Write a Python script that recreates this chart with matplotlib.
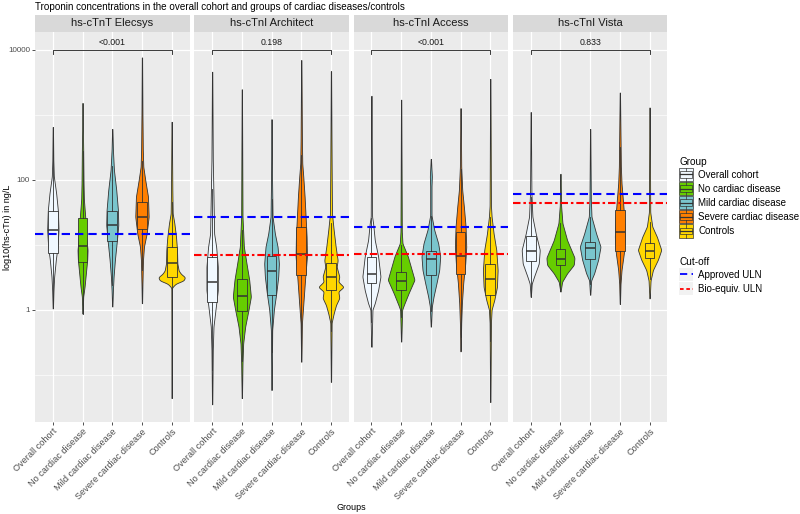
import numpy as np
import matplotlib
matplotlib.use("Agg")
import matplotlib.pyplot as plt
from matplotlib.patches import Rectangle, Patch
from matplotlib.lines import Line2D
from matplotlib.legend_handler import HandlerBase
from matplotlib.ticker import NullFormatter

plt.rcParams['font.family'] = ['Liberation Sans', 'DejaVu Sans']

# ---------------- data ----------------
groups = ["Overall cohort", "No cardiac disease", "Mild cardiac disease",
          "Severe cardiac disease", "Controls"]
assays = ["hs-cTnT Elecsys", "hs-cTnI Architect", "hs-cTnI Access", "hs-cTnI Vista"]
p_values = ["<0.001", "0.198", "<0.001", "0.833"]
approved_uln = [14.6, 26.9, 18.9, 61.0]      # ng/L
bioequiv_uln = [None, 6.9, 7.3, 44.0]        # ng/L

# box statistics (ng/L)
elecsys_q1 = [7.4, 5.4, 11.5, 17.4, 3.2]
elecsys_median = [16.8, 9.4, 20.0, 26.9, 5.2]
elecsys_q3 = [33.3, 26.0, 33.1, 45.7, 9.3]
architect_q1 = [1.3, 0.94, 1.7, 3.4, 2.0]
architect_median = [2.7, 1.6, 4.0, 7.2, 3.2]
architect_q3 = [6.5, 3.0, 6.6, 18.6, 5.2]
access_q1 = [2.6, 2.0, 3.4, 3.5, 1.7]
access_median = [3.5, 2.8, 6.0, 6.6, 3.0]
access_q3 = [6.5, 3.8, 7.9, 15.5, 5.1]
vista_q1 = [5.6, 4.8, 6.1, 7.9, 6.3]
vista_median = [7.9, 6.1, 8.8, 15.7, 7.9]
vista_q3 = [13.8, 8.7, 11.0, 34.7, 10.5]

# density profiles: (log10 ng/L, relative density); first/last level = min/max
elecsys_density = [
    [(0.02, .5), (0.30, 2), (0.51, 4), (0.77, 9), (0.97, 14), (1.23, 17), (1.53, 15),
     (1.79, 10), (2.05, 3), (2.3, 1.5), (2.81, .5)],
    [(-0.06, .5), (0.20, 2), (0.35, 6), (0.56, 10), (0.77, 14), (0.92, 15), (1.17, 10),
     (1.43, 8), (1.7, 4), (1.94, 3), (2.46, 2), (2.8, 1), (3.18, .5)],
    [(0.05, .5), (0.30, 2), (0.51, 4), (0.77, 8), (1.07, 14), (1.30, 18), (1.53, 17),
     (1.84, 12), (2.15, 5), (2.46, 2), (2.78, .5)],
    [(0.10, .5), (0.40, 1.5), (0.76, 3), (0.97, 6), (1.17, 14), (1.43, 20), (1.74, 18),
     (1.99, 10), (2.2, 4), (2.46, 2.5), (3.0, 1.5), (3.88, .5)],
    [(-1.36, .5), (0.34, 1), (0.40, 12), (0.45, 36), (0.50, 40), (0.55, 28), (0.60, 21),
     (0.71, 17), (0.92, 16), (1.12, 13), (1.33, 8), (1.48, 3), (1.84, 2), (2.89, .5)],
]
architect_density = [
    [(-1.455, .5), (-0.62, 2), (-0.26, 4), (0.0, 10), (0.30, 17), (0.66, 17), (0.97, 12),
     (1.17, 6), (1.74, 4), (2.3, 2), (3.66, .5)],
    [(-1.36, .5), (-0.82, 2), (-0.52, 4), (-0.26, 10), (0.0, 20), (0.20, 27), (0.46, 22),
     (0.71, 14), (0.97, 6), (1.43, 2), (3.39, .5)],
    [(-1.235, .5), (-0.31, 2), (0.0, 7), (0.25, 14), (0.51, 20), (0.71, 22), (0.97, 18),
     (1.17, 10), (1.43, 3), (2.0, 1.5), (2.93, .5)],
    [(-0.80, .5), (-0.21, 2), (0.15, 7), (0.51, 12), (0.82, 17), (1.12, 16), (1.43, 13),
     (1.74, 10), (2.05, 6), (2.25, 3), (2.6, 2), (3.84, .5)],
    [(-1.11, .5), (-0.2, 2), (-0.06, 8), (0.07, 15), (0.18, 25), (0.28, 22), (0.35, 38),
     (0.43, 22), (0.51, 25), (0.66, 17), (0.76, 20), (0.97, 14), (1.23, 8), (1.48, 3),
     (2.2, 2), (3.67, .5)],
]
access_density = [
    [(-0.57, .5), (0.0, 3), (0.10, 10), (0.30, 20), (0.51, 27), (0.82, 20), (1.07, 10),
     (1.33, 5), (1.43, 2), (3.29, .5)],
    [(-0.49, .5), (0.0, 3), (0.07, 8), (0.25, 22), (0.46, 40), (0.82, 20), (1.02, 4),
     (1.2, 2), (3.23, .5)],
    [(-0.26, .5), (0.05, 3), (0.20, 8), (0.41, 17), (0.61, 25), (0.82, 28), (1.02, 22),
     (1.23, 10), (1.45, 2), (1.9, 2), (2.05, 3), (2.2, 1.5), (2.32, .5)],
    [(-0.64, .5), (-0.2, 2), (0.10, 4), (0.41, 8), (0.71, 14), (0.97, 17), (1.28, 15),
     (1.58, 10), (1.84, 5), (2.2, 2), (3.1, .5)],
    [(-1.42, .5), (-0.2, 2), (0.0, 4), (0.15, 12), (0.35, 20), (0.61, 22), (0.92, 18),
     (1.17, 10), (1.43, 4), (1.6, 2), (3.55, .5)],
]
vista_density = [
    [(0.20, .5), (0.40, 3), (0.51, 10), (0.71, 24), (0.92, 27), (1.17, 15), (1.43, 5),
     (1.8, 2), (3.04, .5)],
    [(0.28, .5), (0.43, 5), (0.56, 20), (0.69, 40), (0.80, 42), (1.07, 20), (1.33, 6),
     (1.6, 2), (2.09, .5)],
    [(0.23, .5), (0.45, 3), (0.56, 12), (0.77, 24), (0.97, 31), (1.17, 18), (1.43, 4),
     (1.7, 2), (2.78, .5)],
    [(0.09, .5), (0.40, 2), (0.61, 5), (0.87, 12), (1.12, 15), (1.43, 13), (1.69, 9),
     (1.94, 5), (2.2, 3), (3.34, .5)],
    [(0.175, .5), (0.45, 3), (0.61, 10), (0.77, 25), (0.92, 35), (1.12, 22), (1.28, 8),
     (1.5, 2), (3.11, .5)],
]

group_colors = ["#F0F8FF", "#66CD00", "#7AC5CD", "#FF7F00", "#FFD700"]

q1_all = [elecsys_q1, architect_q1, access_q1, vista_q1]
med_all = [elecsys_median, architect_median, access_median, vista_median]
q3_all = [elecsys_q3, architect_q3, access_q3, vista_q3]
dens_all = [elecsys_density, architect_density, access_density, vista_density]

# ---------------- helpers ----------------
def smooth_profile(profile, npts=1200, sigma=0.012):
    lv = np.array([p[0] for p in profile], float)
    dv = np.array([p[1] for p in profile], float)
    grid = np.linspace(lv[0], lv[-1], npts)
    d = np.interp(grid, lv, dv)
    step = grid[1] - grid[0]
    half = int(np.ceil(3 * sigma / step))
    k = np.arange(-half, half + 1) * step
    ker = np.exp(-0.5 * (k / sigma) ** 2)
    ker /= ker.sum()
    dp = np.pad(d, half, mode='edge')
    ds = np.convolve(dp, ker, mode='valid')
    return grid, ds

profiles = [[smooth_profile(p) for p in dens] for dens in dens_all]
dens_ref = 40.0   # density that fills the full 0.9 violin width

W, H = 800, 514
fig = plt.figure(figsize=(W / 100, H / 100), dpi=100)

def fx(px):
    return px / W

def fy(py):
    return 1 - py / H

panel_top, panel_bot = 32, 422
strip_top = 15
pw = 154.5
lefts = [35 + i * 159.3 for i in range(4)]
ymin, ymax = 10 ** -1.728, 10 ** 4.272
positions = np.arange(1, 6)
edge = "#333333"

for i, assay in enumerate(assays):
    ax = fig.add_axes([fx(lefts[i]), fy(panel_bot), pw / W, (panel_bot - panel_top) / H])
    ax.set_facecolor("#EBEBEB")
    for s in ax.spines.values():
        s.set_visible(False)
    ax.set_yscale('log')
    ax.set_ylim(ymin, ymax)
    ax.set_xlim(0.4, 5.6)
    ax.set_axisbelow(True)

    # violins
    vpstats = []
    widths = []
    for (grid, ds) in profiles[i]:
        vals = 10 ** grid
        vpstats.append(dict(coords=vals, vals=ds, mean=np.median(vals),
                            median=np.median(vals), min=vals[0], max=vals[-1]))
        widths.append(0.9 * ds.max() / dens_ref)
    parts = ax.violin(vpstats, positions=positions, widths=widths,
                      showmeans=False, showextrema=False, showmedians=False)
    for body, c in zip(parts['bodies'], group_colors):
        body.set_facecolor(c)
        body.set_edgecolor(edge)
        body.set_linewidth(0.6)
        body.set_alpha(1)
        body.set_zorder(2)

    # boxes
    bstats = []
    for g in range(5):
        lq1, lmed, lq3 = np.log10([q1_all[i][g], med_all[i][g], q3_all[i][g]])
        iqr = lq3 - lq1
        lo_data = profiles[i][g][0][0]
        hi_data = profiles[i][g][0][-1]
        wlo = max(lo_data, lq1 - 1.5 * iqr)
        whi = min(hi_data, lq3 + 1.5 * iqr)
        bstats.append(dict(med=10 ** lmed, q1=10 ** lq1, q3=10 ** lq3,
                           whislo=10 ** wlo, whishi=10 ** whi, fliers=[]))
    bp = ax.bxp(bstats, positions=positions, widths=0.33, patch_artist=True,
                showcaps=False, showfliers=False, manage_ticks=False,
                boxprops=dict(edgecolor=edge, linewidth=0.6),
                medianprops=dict(color=edge, linewidth=1.1),
                whiskerprops=dict(color=edge, linewidth=0.6), zorder=3)
    for b, c in zip(bp['boxes'], group_colors):
        b.set_facecolor(c)

    # cut-off lines
    ax.axhline(approved_uln[i], color="#0000FF", lw=1.5, ls=(0, (4, 2.4)), zorder=4)
    if bioequiv_uln[i] is not None:
        ax.axhline(bioequiv_uln[i], color="#FF0000", lw=1.5,
                   ls=(0, (3.6, 1.4, 1.2, 1.4)), zorder=4)

    # significance bracket
    ytop = 10000
    ytick = 10 ** (4 - 0.06)
    ax.plot([1, 1, 5, 5], [ytick, ytop, ytop, ytick], color="#1A1A1A", lw=0.6, zorder=5)
    ax.text(3, 10 ** 4.105, p_values[i], ha='center', va='center', fontsize=6.3,
            color="#1A1A1A")

    # ticks & grid
    ax.set_yticks([1, 100, 10000])
    ax.set_yticks([0.1, 10, 1000], minor=True)
    ax.yaxis.set_minor_formatter(NullFormatter())
    if i == 0:
        ax.set_yticklabels(["1", "100", "10000"])
    else:
        ax.tick_params(axis='y', which='both', left=False, labelleft=False)
    ax.tick_params(axis='y', which='minor', length=0)
    ax.set_xticks(positions)
    ax.set_xticklabels(groups, rotation=45, ha='right', va='top', rotation_mode='anchor')
    ax.tick_params(axis='both', which='major', length=2.0, width=0.6, color=edge,
                   labelsize=5.8, labelcolor="#4D4D4D", pad=1.5)
    ax.tick_params(axis='x', labelsize=6.6)
    ax.grid(which='major', color='white', lw=0.9)
    ax.grid(which='minor', axis='y', color='white', lw=0.45)

    # strip
    sax = fig.add_axes([fx(lefts[i]), fy(panel_top), pw / W, (panel_top - strip_top) / H])
    sax.set_facecolor("#D9D9D9")
    sax.set_xticks([]); sax.set_yticks([])
    for s in sax.spines.values():
        s.set_visible(False)
    sax.text(0.5, 0.5, assay, ha='center', va='center', fontsize=8, color="#1A1A1A",
             transform=sax.transAxes)

# titles
fig.text(fx(35), fy(7), "Troponin concentrations in the overall cohort and groups of cardiac diseases/controls",
         ha='left', va='center', fontsize=7.1, color="black")
fig.text(fx(8), fy((panel_top + panel_bot) / 2), "log10(hs-cTn) in ng/L", rotation=90,
         ha='center', va='center', fontsize=6.5, color="black")
fig.text(fx((lefts[0] + lefts[3] + pw) / 2), fy(508), "Groups", ha='center', va='center',
         fontsize=6.5, color="black")


# legends
class ViolinKey(HandlerBase):
    def create_artists(self, legend, orig_handle, xdescent, ydescent, width, height,
                       fontsize, trans):
        c = orig_handle.get_facecolor()
        x0, y0 = -xdescent, -ydescent
        arts = [Rectangle((x0, y0), width, height, facecolor=c, edgecolor=edge, lw=0.5,
                          transform=trans),
                Rectangle((x0 + 0.1 * width, y0 + 0.25 * height), 0.8 * width, 0.5 * height,
                          facecolor=c, edgecolor=edge, lw=0.5, transform=trans),
                Line2D([x0 + 0.1 * width, x0 + 0.9 * width], [y0 + 0.5 * height] * 2,
                       color=edge, lw=0.9, transform=trans),
                Line2D([x0 + 0.5 * width] * 2, [y0, y0 + 0.25 * height], color=edge, lw=0.5,
                       transform=trans),
                Line2D([x0 + 0.5 * width] * 2, [y0 + 0.75 * height, y0 + height], color=edge,
                       lw=0.5, transform=trans)]
        return arts


class LineKey(HandlerBase):
    def create_artists(self, legend, orig_handle, xdescent, ydescent, width, height,
                       fontsize, trans):
        x0, y0 = -xdescent, -ydescent
        bg = Rectangle((x0, y0), width, height, facecolor="#F2F2F2", edgecolor='none',
                       transform=trans)
        ln = Line2D([x0 + 0.05 * width, x0 + width], [y0 + 0.5 * height] * 2,
                    color=orig_handle.get_color(), lw=1.3,
                    ls=orig_handle.get_linestyle(), transform=trans)
        ln.set_dashes(orig_handle._unscaled_dash_pattern[1] or [])
        return [bg, ln]


leg_kw = dict(loc='upper left', frameon=False, fontsize=7, title_fontsize=7.2,
              handlelength=1.43, handleheight=1.75, labelspacing=0.07,
              handletextpad=0.55, borderpad=0, borderaxespad=0, alignment='left')
group_handles = [Patch(facecolor=c) for c in group_colors]
fig.legend(group_handles, groups, handler_map={Patch: ViolinKey()},
           bbox_to_anchor=(fx(679), fy(157)), title="Group", **leg_kw)
cut_handles = [Line2D([], [], color="#0000FF", ls=(0, (4, 2.4))),
               Line2D([], [], color="#FF0000", ls=(0, (2, 1.5)))]
fig.legend(cut_handles, ["Approved ULN", "Bio-equiv. ULN"],
           handler_map={Line2D: LineKey()},
           bbox_to_anchor=(fx(679), fy(257)), title="Cut-off", **leg_kw)

fig.savefig("out.png", dpi=100)
